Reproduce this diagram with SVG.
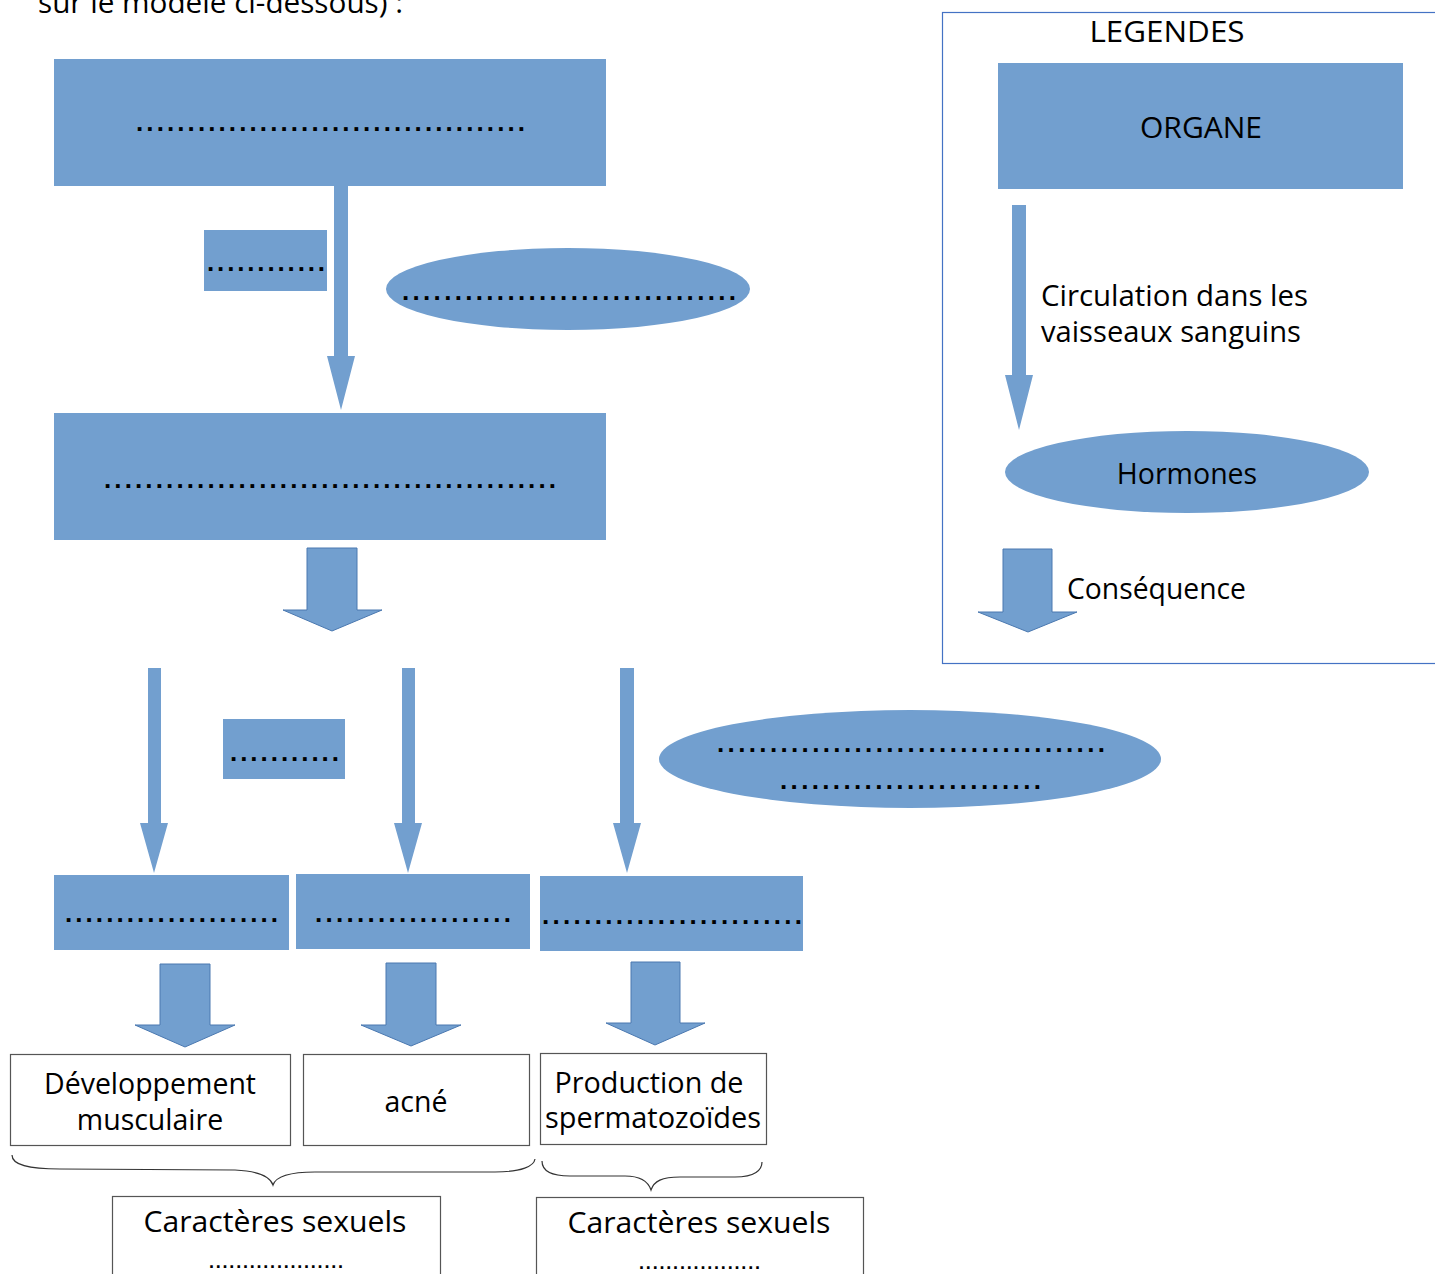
<svg xmlns="http://www.w3.org/2000/svg" width="1435" height="1274" viewBox="0 0 1435 1274">
<defs>
<style>
.b{fill:#729fcf;}
.ba{fill:#729fcf;stroke:#4a78b0;stroke-width:1;}
.wb{fill:#fff;stroke:#555;stroke-width:1.2;}
.t{font-family:"Open Sans","DejaVu Sans",sans-serif;font-size:28.5px;fill:#000;}
.d{font-family:"Liberation Sans",sans-serif;font-size:26px;font-weight:bold;fill:#000;}
.ds{font-family:"Liberation Sans",sans-serif;font-size:18px;font-weight:bold;fill:#000;}
.c{text-anchor:middle;}
.br{fill:none;stroke:#333;stroke-width:1.2;}
</style>
</defs>
<rect width="1435" height="1274" fill="#fff"/>
<text class="t" x="38" y="13" textLength="365" lengthAdjust="spacingAndGlyphs">sur le modèle ci-dessous) :</text>

<g id="legend">
<rect x="942.5" y="12.5" width="500" height="651" fill="none" stroke="#4472c4" stroke-width="1.2"/>
<text class="t c" x="1167" y="42" textLength="155" lengthAdjust="spacingAndGlyphs">LEGENDES</text>
<g id="legend-organe"><rect class="b" x="998" y="63" width="405" height="126"/><text class="t c" x="1201" y="138" textLength="122" lengthAdjust="spacingAndGlyphs">ORGANE</text></g>
<g id="legend-arrow"><polygon class="b" points="1012,205 1026,205 1026,375 1033,375 1019,430 1005,375 1012,375"/></g>
<text class="t" x="1041" y="306" textLength="267" lengthAdjust="spacingAndGlyphs">Circulation dans les</text>
<text class="t" x="1041" y="342" textLength="260" lengthAdjust="spacingAndGlyphs">vaisseaux sanguins</text>
<g id="legend-hormones"><ellipse class="b" cx="1187" cy="472" rx="182" ry="41"/><text class="t c" x="1187" y="484">Hormones</text></g>
<g id="legend-consequence"><polygon class="ba" points="1003,549 1052,549 1052,612 1077,612 1028,632 978,612 1003,612"/></g>
<text class="t" x="1067" y="599" textLength="179" lengthAdjust="spacingAndGlyphs">Conséquence</text>
</g>

<g id="connectors">
<polygon class="b" points="334,186 348,186 348,356 355,356 341,410 327,356 334,356"/>
<polygon class="ba" points="307,548 357,548 357,610 382,610 332,631 283,610 307,610"/>
<polygon class="b" points="148,668 161,668 161,823 168,823 154,873 140,823 148,823"/>
<polygon class="b" points="402,668 415,668 415,823 422,823 408,873 394,823 402,823"/>
<polygon class="b" points="620,668 634,668 634,823 641,823 627,873 613,823 620,823"/>
<polygon class="ba" points="160,964 210,964 210,1025 235,1025 185,1047 135,1025 160,1025"/>
<polygon class="ba" points="386,963 436,963 436,1025 461,1025 411,1046 361,1025 386,1025"/>
<polygon class="ba" points="631,962 680,962 680,1023 705,1023 655,1045 606,1023 631,1023"/>
<path class="br" d="M12,1155 C12,1165 28,1169 60,1169 L235,1170 C258,1171 270,1176 273,1185 C276,1176 290,1172 315,1172 L495,1172 C522,1172 534,1166 535,1159"/>
<path class="br" d="M542,1161 C542,1170 550,1176 570,1176 L625,1176 C640,1176 648,1181 651,1190 C654,1181 662,1177 680,1177 L735,1177 C755,1177 762,1170 762,1162"/>
</g>

<g id="organe1"><rect class="b" x="54" y="59" width="552" height="127"/><text class="d" x="136" y="131" textLength="389" lengthAdjust="spacing">......................................</text></g>
<g id="label1"><rect class="b" x="204" y="230" width="123" height="61"/><text class="d" x="207" y="271" textLength="118" lengthAdjust="spacing">............</text></g>
<g id="hormone1"><ellipse class="b" cx="568" cy="289" rx="182" ry="41"/><text class="d" x="402" y="300" textLength="334" lengthAdjust="spacing">................................</text></g>
<g id="organe2"><rect class="b" x="54" y="413" width="552" height="127"/><text class="d" x="104" y="488" textLength="452" lengthAdjust="spacing">............................................</text></g>
<g id="label2"><rect class="b" x="223" y="719" width="122" height="60"/><text class="d" x="230" y="761" textLength="109" lengthAdjust="spacing">...........</text></g>
<g id="hormone2"><ellipse class="b" cx="910" cy="759" rx="251" ry="49"/><text class="d" x="717" y="752" textLength="388" lengthAdjust="spacing">.....................................</text><text class="d" x="780" y="789" textLength="261" lengthAdjust="spacing">.........................</text></g>
<g id="cible1"><rect class="b" x="54" y="875" width="235" height="75"/><text class="d" x="65" y="922" textLength="213" lengthAdjust="spacing">.....................</text></g>
<g id="cible2"><rect class="b" x="296" y="874" width="234" height="75"/><text class="d" x="315" y="922" textLength="196" lengthAdjust="spacing">...................</text></g>
<g id="cible3"><rect class="b" x="540" y="876" width="263" height="75"/><text class="d" x="542" y="924" textLength="260" lengthAdjust="spacing">.........................</text></g>
<g id="effet1"><rect class="wb" x="10.5" y="1054.5" width="280" height="91"/><text class="t c" x="150" y="1094" textLength="212" lengthAdjust="spacingAndGlyphs">Développement</text><text class="t c" x="150" y="1130">musculaire</text></g>
<g id="effet2"><rect class="wb" x="303.5" y="1054.5" width="226" height="91"/><text class="t c" x="416" y="1112">acné</text></g>
<g id="effet3"><rect class="wb" x="540.5" y="1053.5" width="226" height="91"/><text class="t c" x="649" y="1093" textLength="189" lengthAdjust="spacingAndGlyphs">Production de</text><text class="t c" x="653" y="1128" textLength="216" lengthAdjust="spacingAndGlyphs">spermatozoïdes</text></g>
<g id="caract1"><rect class="wb" x="112.5" y="1196.5" width="328" height="90"/><text class="t c" x="275" y="1232" textLength="263" lengthAdjust="spacingAndGlyphs">Caractères sexuels</text><text class="ds" x="209" y="1268" textLength="134" lengthAdjust="spacing">....................</text></g>
<g id="caract2"><rect class="wb" x="536.5" y="1197.5" width="327" height="90"/><text class="t c" x="699" y="1233" textLength="263" lengthAdjust="spacingAndGlyphs">Caractères sexuels</text><text class="ds" x="639" y="1269" textLength="121" lengthAdjust="spacing">..................</text></g>
</svg>
